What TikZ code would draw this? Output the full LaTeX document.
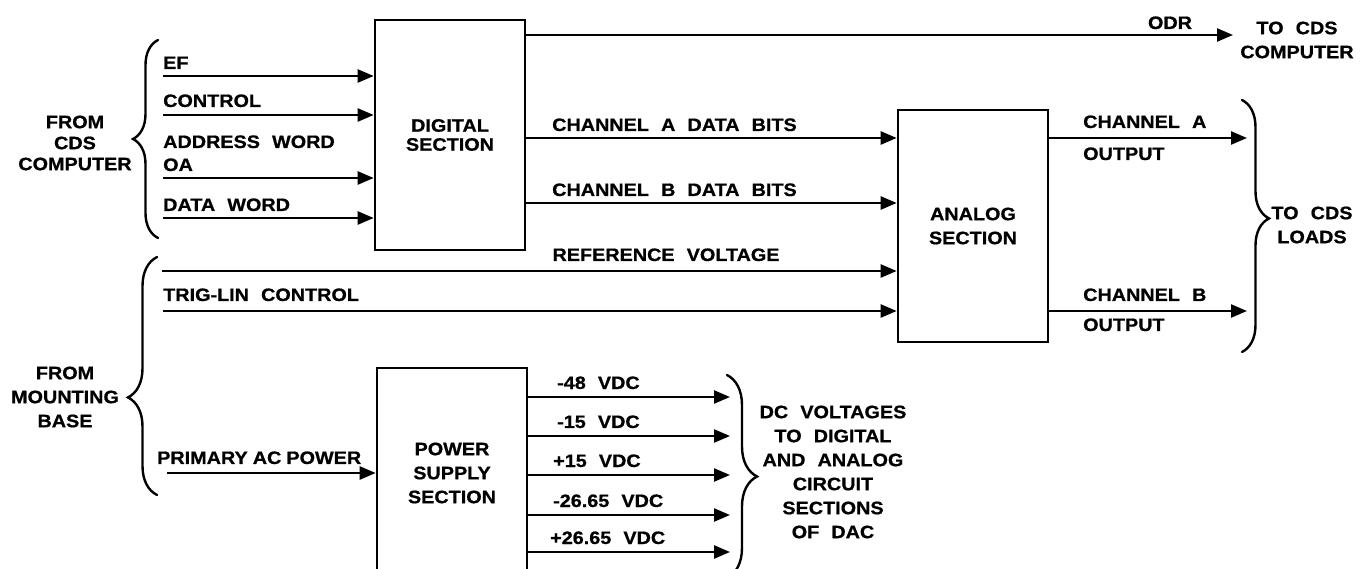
\documentclass[tikz,border=0pt]{standalone}
\usepackage{fontspec}
\setmainfont{Liberation Sans}[FakeStretch=1.1,WordSpace=2.2,FakeBold=0.8]
\usetikzlibrary{arrows.meta,positioning,decorations.pathreplacing}

\begin{document}
\begin{tikzpicture}[x=1pt, y=-1pt, font=\fontsize{18}{24}\selectfont\bfseries,
    section_box/.style={draw, line width=2.6pt, minimum width=150pt, align=center, inner sep=0pt},
    sig/.style={-{Triangle[length=16pt,width=13pt]}, line width=2.4pt},
    lbl/.style={anchor=base west, inner sep=0pt},
    txt/.style={align=center, inner sep=0pt},
    grp/.style={decorate, line width=2.4pt, line cap=round}
]
    \useasboundingbox (0,0) rectangle (1369,569);

    % Nodes
    \node[section_box, minimum height=230pt, font=\fontsize{18}{19}\selectfont\bfseries] (digital) at (450,135) {DIGITAL\\SECTION};
    \node[section_box, minimum height=232pt] (analog) at (973,226) {ANALOG\\SECTION};
    \node[section_box, minimum height=210pt] (power) at (452,473) {POWER\\SUPPLY\\SECTION};

    \node[txt, font=\fontsize{18}{21}\selectfont\bfseries] (from_cds) at (75,143) {FROM\\CDS\\COMPUTER};
    \node[txt] (from_base) at (65,397) {FROM\\MOUNTING\\BASE};
    \node[txt] (to_cds) at (1297,40) {TO CDS\\COMPUTER};
    \node[txt] (to_loads) at (1312,225) {TO CDS\\LOADS};
    \node[txt] (dc_text) at (833,472) {DC VOLTAGES\\TO DIGITAL\\AND ANALOG\\CIRCUIT\\SECTIONS\\OF DAC};

    % Line ends
    \coordinate (ef_in) at (163,76);
    \coordinate (ctrl_in) at (163,115);
    \coordinate (addr_in) at (163,178);
    \coordinate (data_in) at (163,218);
    \coordinate (ref_in) at (162,271);
    \coordinate (trig_in) at (163,311);
    \coordinate (ac_in) at (167,473);
    \coordinate (odr_out) at (1233,35);
    \coordinate (cha_out) at (1247,138);
    \coordinate (chb_bits) at (700,203);
    \coordinate (chb_out) at (1247,311);

    % Inputs to digital section
    \draw[sig] (ef_in) -- (ef_in -| digital.west);
    \draw[sig] (ctrl_in) -- (ctrl_in -| digital.west);
    \draw[sig] (addr_in) -- (addr_in -| digital.west);
    \draw[sig] (data_in) -- (data_in -| digital.west);
    \node[lbl] (ef_lbl) at (163,69) {EF};
    \node[lbl] (ctrl_lbl) at (163,107) {CONTROL};
    \node[lbl] (addr_lbl) at (163,148) {ADDRESS WORD};
    \node[lbl] (oa_lbl) at (163,171) {OA};
    \node[lbl] (data_lbl) at (163,211) {DATA WORD};

    % Digital to analog
    \draw[sig] (digital.east |- odr_out) -- (odr_out);
    \node[anchor=base, inner sep=0pt] (odr_lbl) at (1170,29) {ODR};
    \draw[sig] (digital.east |- cha_out) -- (analog.west |- cha_out);
    \node[lbl] (cha_bits_lbl) at (552,131) {CHANNEL A DATA BITS};
    \draw[sig] (digital.east |- chb_bits) -- (analog.west |- chb_bits);
    \node[lbl] (chb_bits_lbl) at (552,196) {CHANNEL B DATA BITS};

    % From mounting base
    \draw[sig] (ref_in) -- (ref_in -| analog.west);
    \node[anchor=base, inner sep=0pt] (ref_lbl) at (666,261) {REFERENCE VOLTAGE};
    \draw[sig] (trig_in) -- (trig_in -| analog.west);
    \node[lbl] (trig_lbl) at (163,301) {TRIG-LIN CONTROL};
    \draw[sig] (ac_in) -- (ac_in -| power.west);
    \node[lbl] (ac_lbl) at (157,464) {PRIMARY\hspace{0.28em}AC\hspace{0.28em}POWER};

    % Analog outputs
    \draw[sig] (analog.east |- cha_out) -- (cha_out);
    \node[lbl] (cha_lbl) at (1083,128) {CHANNEL A};
    \node[lbl] (cha_out_lbl) at (1083,160) {OUTPUT};
    \draw[sig] (analog.east |- chb_out) -- (chb_out);
    \node[lbl] (chb_lbl) at (1083,301) {CHANNEL B};
    \node[lbl] (chb_out_lbl) at (1083,331) {OUTPUT};

    % Power supply outputs
    \foreach \y/\v/\x in {397/-48 VDC/557, 436/-15 VDC/557, 475/+15 VDC/553, 515/-26.65 VDC/553, 552/+26.65 VDC/550}{
        \coordinate (dc_out) at (730,\y);
        \draw[sig] (power.east |- dc_out) -- (dc_out);
        \node[lbl] at (\x,\y-8) {\v};
    }

    % Braces
    \coordinate (cds_bot) at (158,238);
    \coordinate (cds_top) at (158,40);
    \coordinate (base_bot) at (157,495);
    \coordinate (base_top) at (157,257);
    \coordinate (loads_top) at (1242,100);
    \coordinate (loads_bot) at (1242,352);
    \coordinate (dc_top) at (727,375);
    \coordinate (dc_bot) at (727,578);
    \draw[grp, decoration={brace, amplitude=25pt}] (cds_bot) -- (cds_top);
    \draw[grp, decoration={brace, amplitude=29pt, aspect=0.41}] (base_bot) -- (base_top);
    \draw[grp, decoration={brace, amplitude=27pt, aspect=0.47}] (loads_top) -- (loads_bot);
    \draw[grp, decoration={brace, amplitude=30pt, aspect=0.5}] (dc_top) -- (dc_bot);
\end{tikzpicture}
\end{document}
